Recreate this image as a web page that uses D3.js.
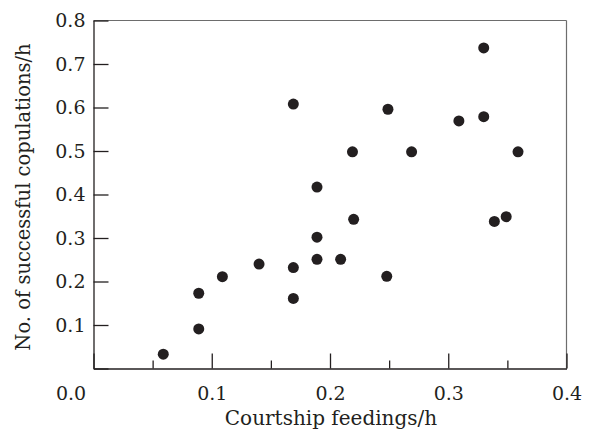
<!DOCTYPE html>
<html>
<head>
<meta charset="utf-8">
<script src="https://cdn.jsdelivr.net/npm/d3@7"></script>
<style>
  body { margin: 0; background: #fff; }
  svg { display: block; }
  text { font-family: "DejaVu Serif", serif; fill: #231f20; }
</style>
</head>
<body>
<div id="chart"></div>
<script>
// Data
const feedings = [0.059, 0.089, 0.089, 0.109, 0.14, 0.169, 0.169, 0.169, 0.189, 0.189, 0.189, 0.209,
  0.219, 0.22, 0.248, 0.249, 0.269, 0.309, 0.33, 0.33, 0.339, 0.349, 0.359];
const copulations = [0.033, 0.091, 0.173, 0.211, 0.24, 0.232, 0.161, 0.608, 0.251, 0.302, 0.417, 0.251,
  0.498, 0.343, 0.212, 0.596, 0.498, 0.569, 0.737, 0.579, 0.338, 0.349, 0.498];
const xTicks = [0, 0.1, 0.2, 0.3, 0.4];
const xMinorTicks = [0.05, 0.15, 0.25, 0.35];
const yTicks = [0, 0.1, 0.2, 0.3, 0.4, 0.5, 0.6, 0.7, 0.8];
const xTitle = "Courtship feedings/h";
const yTitle = "No. of successful copulations/h";

const width = 591;
const height = 429;
const margin = { top: 20.5, right: 24.5, bottom: 60.5, left: 93.5 };

function renderScatter(container) {
  const svg = d3.select(container).append("svg").attr("width", width).attr("height", height);

  const x = d3.scaleLinear().domain([0, 0.4]).range([margin.left, width - margin.right]);
  const y = d3.scaleLinear().domain([0, 0.8]).range([height - margin.bottom, margin.top]);

  // Light frame on top and right
  svg.append("line")
    .attr("x1", x(0)).attr("x2", x(0.4)).attr("y1", y(0.8)).attr("y2", y(0.8))
    .attr("stroke", "#6d6d6d").attr("stroke-width", 1.2);
  svg.append("line")
    .attr("x1", x(0.4)).attr("x2", x(0.4)).attr("y1", y(0.8)).attr("y2", y(0))
    .attr("stroke", "#6d6d6d").attr("stroke-width", 1.2);

  // Bottom axis, ticks point inward
  const xAxis = svg.append("g")
    .attr("transform", `translate(0, ${y(0)})`)
    .call(d3.axisBottom(x).tickValues(xTicks).tickFormat(d3.format(".1f")).tickSize(-15).tickSizeOuter(0));
  xAxis.selectAll(".tick text")
    .attr("y", 18)
    .attr("dx", (d) => (d === 0 ? -23 : 0))
    .style("font-size", "19px");

  svg.append("g")
    .attr("transform", `translate(0, ${y(0)})`)
    .call(d3.axisBottom(x).tickValues(xMinorTicks).tickFormat("").tickSize(-8).tickSizeOuter(0))
    .call((g) => g.select(".domain").remove());

  // Left axis, no label at zero
  const yAxis = svg.append("g")
    .attr("transform", `translate(${x(0)}, 0)`)
    .call(d3.axisLeft(y).tickValues(yTicks).tickFormat((d) => (d === 0 ? "" : d3.format(".1f")(d))).tickSize(-15).tickSizeOuter(0));
  yAxis.selectAll(".tick text").attr("x", -8).style("font-size", "19px");

  svg.selectAll(".domain, .tick line").attr("stroke", "#231f20").attr("stroke-width", 1.3);

  // Points
  svg.append("g")
    .selectAll("circle")
    .data(feedings.map((f, i) => [f, copulations[i]]))
    .join("circle")
    .attr("cx", (d) => x(d[0]))
    .attr("cy", (d) => y(d[1]))
    .attr("r", 5.5)
    .attr("fill", "#231f20");

  // Axis titles
  svg.append("text")
    .attr("x", (x(0) + x(0.4)) / 2 + 1)
    .attr("y", 425)
    .attr("text-anchor", "middle")
    .style("font-size", "20px")
    .text(xTitle);

  svg.append("text")
    .attr("transform", `translate(30, 197) rotate(-90)`)
    .attr("text-anchor", "middle")
    .style("font-size", "19.5px")
    .text(yTitle);
}

renderScatter("#chart");
</script>
</body>
</html>
